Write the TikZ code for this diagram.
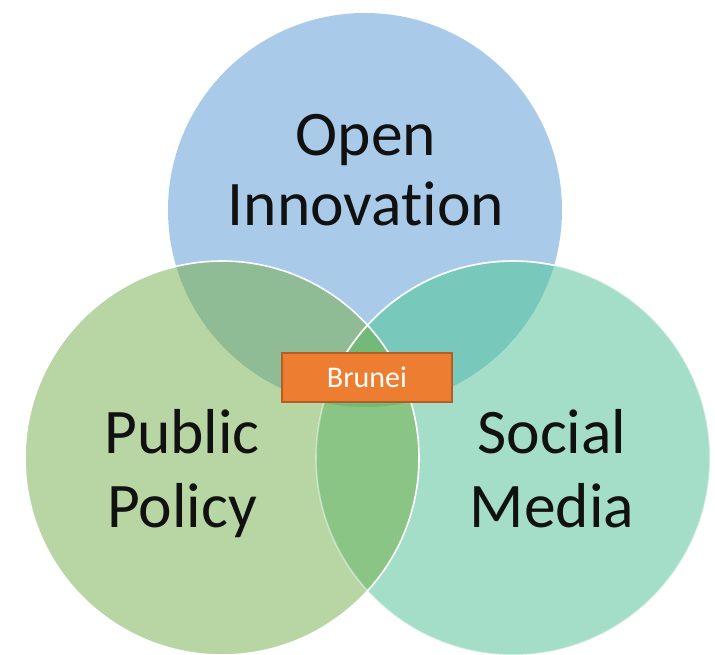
\documentclass[tikz,border=0pt]{standalone}
\usepackage{fontspec}
\setmainfont{Carlito}[Ligatures=NoCommon]
\definecolor{cblue}{HTML}{A9CBE9}
\definecolor{cgreen}{HTML}{B8D5A4}
\definecolor{cmint}{HTML}{A5DEC8}
\definecolor{cab}{HTML}{8FBC94}
\definecolor{cac}{HTML}{78C8BC}
\definecolor{cbc}{HTML}{8AC586}
\definecolor{cabc}{HTML}{73B97A}
\definecolor{corange}{HTML}{ED7D31}
\definecolor{cborder}{HTML}{B25E25}
\definecolor{ctext}{HTML}{111111}
\tikzset{
  biglabel/.style={align=center, text=ctext, inner sep=0pt,
    font=\fontsize{63.5}{72}\selectfont},
  tagbox/.style={fill=corange, draw=cborder, line width=1.5pt,
    minimum width=170pt, minimum height=49pt, inner sep=0pt,
    text=white, font=\fontsize{30}{34}\selectfont},
  rim/.style={draw=white, line width=1.6pt}
}
\begin{document}
\begin{tikzpicture}[x=1pt,y=-1pt]
\useasboundingbox (0,0) rectangle (715,654);
\fill[white] (0,0) rectangle (715,654);
\coordinate (A) at (365,210);
\coordinate (B) at (222,458);
\coordinate (C) at (513,458);
\def\R{197pt}
\fill[cblue] (A) circle (\R);
\fill[cgreen] (B) circle (\R);
\fill[cmint] (C) circle (\R);
\begin{scope}
  \clip (A) circle (\R);
  \fill[cab] (B) circle (\R);
  \fill[cac] (C) circle (\R);
\end{scope}
\begin{scope}
  \clip (B) circle (\R);
  \fill[cbc] (C) circle (\R);
  \clip (A) circle (\R);
  \fill[cabc] (C) circle (\R);
\end{scope}
\draw[rim, draw opacity=0.45] (C) circle (\R);
\begin{scope}
  \clip (A) circle (\R);
  \draw[rim] (C) circle (\R);
\end{scope}
\draw[rim] (B) circle (\R);
\node[biglabel, anchor=base, font=\fontsize{63.5}{70}\selectfont] (open) at (366,225) {Open\\Innovation};
\node[biglabel, anchor=base, font=\fontsize{63.5}{74}\selectfont] (public) at (182,527) {Public\\Policy};
\node[biglabel, anchor=base, font=\fontsize{63.5}{74}\selectfont] (social) at (552,527) {Social\\Media};
\node[tagbox] (brunei) at (367,377.5) {Brunei};
\end{tikzpicture}
\end{document}
